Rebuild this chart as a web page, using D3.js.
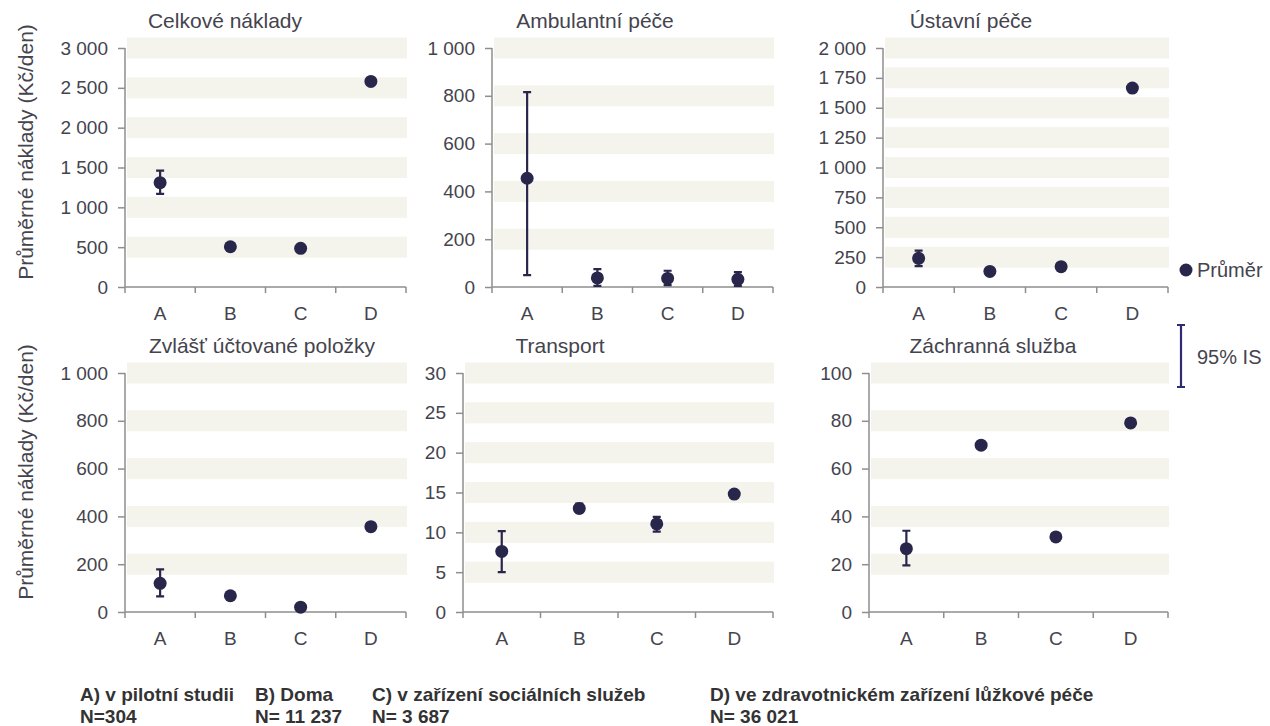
<!DOCTYPE html>
<html><head><meta charset="utf-8">
<script src="https://cdn.jsdelivr.net/npm/d3@7"></script>
<style>
html,body{margin:0;padding:0;background:#fff;}
svg{display:block;font-family:"Liberation Sans",Arial,sans-serif;}
</style></head>
<body>
<svg id="chart" width="1270" height="726"></svg>
<script>
// ---- data ----
const categories = ["A", "B", "C", "D"];
const panelTitles = ["Celkové náklady", "Ambulantní péče", "Ústavní péče",
                     "Zvlášť účtované položky", "Transport", "Záchranná služba"];
const means = [
  [1310, 505, 485, 2580],
  [455, 38, 36, 32],
  [240, 130, 170, 1665],
  [120, 68, 20, 357],
  [7.6, 13.0, 11.05, 14.8],
  [26.5, 69.8, 31.4, 79.1]
];
const lowerCI = [
  [1170, 490, 470, 2555],
  [50, 5, 8, 5],
  [175, 120, 158, 1645],
  [65, 60, 14, 345],
  [5.0, 12.5, 10.1, 14.5],
  [19.5, 68.5, 30, 78]
];
const upperCI = [
  [1460, 520, 500, 2605],
  [815, 75, 68, 62],
  [305, 140, 182, 1685],
  [178, 76, 26, 370],
  [10.15, 13.6, 11.95, 15.1],
  [34, 71, 33, 80.3]
];
const yMax = [3000, 1000, 2000, 1000, 30, 100];
const tickStep = [500, 200, 250, 200, 5, 20];
const yAxisLabel = "Průměrné náklady (Kč/den)";
const legendMean = "Průměr";
const legendCI = "95% IS";
const footerLines = [
  ["A) v pilotní studii", "B) Doma", "C) v zařízení sociálních služeb", "D) ve zdravotnickém zařízení lůžkové péče"],
  ["N=304", "N= 11 237", "N= 3 687", "N= 36 021"]
];

// ---- layout ----
const panels = [
  {l:125, r:406, t:48, b:287, tx:225},
  {l:492, r:773, t:48, b:287, tx:595},
  {l:883, r:1168, t:48, b:287, tx:971},
  {l:125, r:406, t:373, b:612, tx:262},
  {l:463, r:773, t:373, b:612, tx:560},
  {l:869, r:1168, t:373, b:612, tx:993}
];
const bandColor = "#f4f3ec";
const axisColor = "#8e8e8e";
const textColor = "#44444e";
const dotColor = "#28274b";

const svg = d3.select("#chart");
const loc = d3.formatLocale({decimal: ",", thousands: "\u00a0", grouping: [3], currency: ["", ""]});
const fmt = loc.format(",");

panels.forEach((p, i) => {
  const g = svg.append("g");
  const x = d3.scaleBand().domain(categories).range([p.l, p.r]).padding(0);
  const y = d3.scaleLinear().domain([0, yMax[i]]).range([p.b, p.t]);
  const ticks = d3.range(0, yMax[i] + tickStep[i] / 2, tickStep[i]);

  // bands
  g.selectAll("rect.band").data(ticks.filter(t => t > 0)).join("rect")
    .attr("x", p.l + 2).attr("width", p.r - p.l - 1)
    .attr("y", d => y(d) - 10.5).attr("height", 21)
    .attr("fill", bandColor);

  // y axis
  const ya = d3.axisLeft(y).tickValues(ticks).tickSize(7).tickPadding(10).tickFormat(fmt);
  const yg = g.append("g").attr("transform", `translate(${p.l},0)`).call(ya);
  yg.select(".domain").attr("stroke", axisColor).attr("stroke-width", 1.5)
    .attr("d", `M0,${p.t}V${p.b + 6}`);
  yg.selectAll(".tick line").attr("stroke", axisColor).attr("stroke-width", 1.5);
  yg.selectAll(".tick text").attr("fill", textColor).style("font-size", "19px");

  // x axis
  const xa = d3.axisBottom(x).tickSize(0).tickPadding(20);
  const xg = g.append("g").attr("transform", `translate(0,${p.b})`).call(xa);
  xg.select(".domain").attr("stroke", axisColor).attr("stroke-width", 1.5)
    .attr("d", `M${p.l},0H${p.r}`);
  xg.selectAll(".tick text").attr("fill", textColor).style("font-size", "19px");
  xg.selectAll("line.sep").data(categories).join("line")
    .attr("x1", d => x(d) + x.bandwidth()).attr("x2", d => x(d) + x.bandwidth())
    .attr("y1", 0).attr("y2", 6).attr("stroke", axisColor).attr("stroke-width", 1.5);

  // title
  g.append("text").attr("x", p.tx).attr("y", p.t - 20).attr("text-anchor", "middle")
    .attr("fill", textColor).style("font-size", "21px").text(panelTitles[i]);

  // error bars
  const cx = d => x(d) + x.bandwidth() / 2;
  categories.forEach((c, j) => {
    const yl = y(lowerCI[i][j]), yu = y(upperCI[i][j]), xc = cx(c);
    g.append("path").attr("fill", "none").attr("stroke", dotColor).attr("stroke-width", 2.2)
      .attr("d", `M${xc},${yl}V${yu}M${xc - 4},${yl}H${xc + 4}M${xc - 4},${yu}H${xc + 4}`);
  });
  // points
  g.selectAll("circle.pt").data(categories).join("circle")
    .attr("cx", cx).attr("cy", (d, j) => y(means[i][j])).attr("r", 6.5)
    .attr("fill", dotColor);
});

// y axis labels
[152, 472].forEach(cy => {
  svg.append("text").attr("transform", `translate(33,${cy}) rotate(-90)`)
    .attr("text-anchor", "middle").attr("fill", textColor).style("font-size", "21px")
    .text(yAxisLabel);
});

// legend
svg.append("circle").attr("cx", 1186).attr("cy", 270).attr("r", 6.5).attr("fill", dotColor);
svg.append("text").attr("x", 1197).attr("y", 277).attr("fill", textColor)
  .style("font-size", "20px").text(legendMean);
svg.append("path").attr("fill", "none").attr("stroke", "#2c2d70").attr("stroke-width", 2.2)
  .attr("d", "M1181,325V387M1177,325H1185M1177,387H1185");
svg.append("text").attr("x", 1197).attr("y", 364).attr("fill", textColor)
  .style("font-size", "20px").text(legendCI);

// footer
const footX = [80, 255, 372, 710];
const footY = [701, 723];
footerLines.forEach((line, r) => {
  line.forEach((t, k) => {
    svg.append("text").attr("x", footX[k]).attr("y", footY[r]).attr("fill", "#333")
      .style("font-size", "19px").style("font-weight", "bold").text(t);
  });
});
</script>
</body></html>
